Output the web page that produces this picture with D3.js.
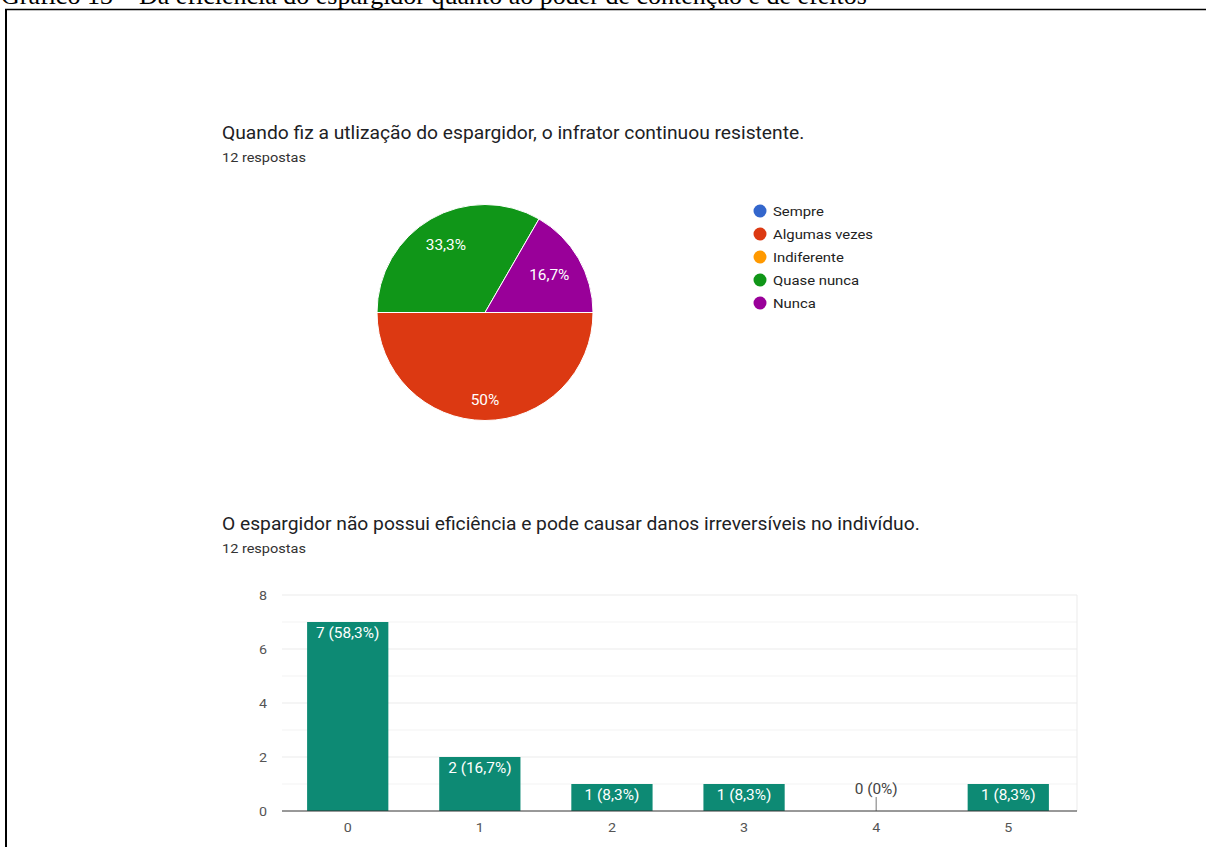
<!DOCTYPE html>
<html>
<head>
<meta charset="utf-8">
<script src="https://cdn.jsdelivr.net/npm/d3@7"></script>
<style>
  html, body { margin: 0; padding: 0; background: #fff; }
  svg { display: block; }
</style>
</head>
<body>
<div id="canvas"></div>
<script>
'use strict';

// Figure caption (cut off at the top of the page in the source).
const captionText =
    'Gráfico 13 – Da eficiência do espargidor quanto ao poder de contenção e de efeitos';

// Pie chart: first question.
const pieTitle =
    'Quando fiz a utlização do espargidor, o infrator continuou resistente.';
const pieSubtitle = '12 respostas';
const pieCategories =
    ['Sempre', 'Algumas vezes', 'Indiferente', 'Quase nunca', 'Nunca'];
const pieValues = [0, 6, 0, 4, 2];
const pieColors = ['#3366cc', '#dc3912', '#ff9900', '#109618', '#990099'];

// Bar chart: second question.
const barTitle =
    'O espargidor não possui eficiência e pode causar danos irreversíveis no indivíduo.';
const barSubtitle = '12 respostas';
const barCategories = ['0', '1', '2', '3', '4', '5'];
const barValues = [7, 2, 1, 1, 0, 1];
const barYTicks = [0, 2, 4, 6, 8];

const FONT = 'Roboto, Arial, sans-serif';
// The screenshot the chart comes from is a little wider than tall,
// so all the form text is stretched horizontally by this much.
const STRETCH = 1.1;
const width = 1206;
const height = 847;

const svg = d3.select('#canvas').append('svg')
    .attr('width', width)
    .attr('height', height);

// Percentages are written the Brazilian way: 58,3%
const pct = (v, total) => {
  const p = Math.round(v / total * 1000) / 10;
  return String(p).replace('.', ',') + '%';
};

// Places a text at (x, y) and stretches it sideways.
function placeStretched(sel, x, y) {
  sel.attr('x', 0).attr('y', 0)
      .attr('transform', `translate(${x}, ${y}) scale(${STRETCH}, 1)`);
}

// ---- page frame and clipped caption ----
svg.append('text')
    .attr('x', 1)
    .attr('y', 4)
    .attr('font-family', '"Liberation Serif", "Times New Roman", serif')
    .attr('font-size', 26)
    .attr('fill', '#000')
    .text(captionText);

svg.append('line')
    .attr('x1', 5).attr('x2', width)
    .attr('y1', 9.5).attr('y2', 9.5)
    .attr('stroke', '#000').attr('stroke-width', 1.5);
svg.append('line')
    .attr('x1', 6).attr('x2', 6)
    .attr('y1', 9).attr('y2', height)
    .attr('stroke', '#000').attr('stroke-width', 2);

// ---- headings ----
function heading(title, subtitle, y) {
  svg.append('text')
      .attr('font-family', FONT).attr('font-size', 17.5)
      .attr('fill', '#202124')
      .text(title)
      .call(placeStretched, 222, y);
  svg.append('text')
      .attr('font-family', FONT).attr('font-size', 13.2)
      .attr('fill', '#333')
      .text(subtitle)
      .call(placeStretched, 222, y + 23);
}
heading(pieTitle, pieSubtitle, 139);
heading(barTitle, barSubtitle, 530);

// ---- pie chart ----
const pieCx = 485;
const pieCy = 312.5;
const pieR = 108;
const pieTotal = d3.sum(pieValues);

const pieData = pieCategories.map((c, i) => ({
  key: c, value: pieValues[i], color: pieColors[i],
}));

const pie = d3.pie()
    .sort(null)
    .value(d => d.value)
    .startAngle(Math.PI / 2)
    .endAngle(Math.PI / 2 + 2 * Math.PI);
const arc = d3.arc().innerRadius(0).outerRadius(pieR);

const pieG = svg.append('g')
    .attr('transform', `translate(${pieCx}, ${pieCy})`);

const arcs = pie(pieData).filter(a => a.data.value > 0);

pieG.selectAll('path.slice')
    .data(arcs)
    .enter()
    .append('path')
    .attr('class', 'slice')
    .attr('d', arc)
    .attr('fill', d => d.data.color)
    .attr('stroke', '#fff')
    .attr('stroke-width', 1);

// Labels are pushed outward along the slice bisector until the far corner
// of their box reaches a fixed distance from the centre.
const labelReach = 95;
const labelH = 13;
pieG.selectAll('text.slice-label')
    .data(arcs)
    .enter()
    .append('text')
    .attr('class', 'slice-label')
    .attr('font-family', FONT)
    .attr('font-size', 14)
    .attr('fill', '#fff')
    .attr('text-anchor', 'middle')
    .attr('dominant-baseline', 'central')
    .text(d => pct(d.data.value, pieTotal))
    .each(function(d) {
      const w = this.getComputedTextLength() * STRETCH;
      const mid = (d.startAngle + d.endAngle) / 2;
      const dx = Math.sin(mid);
      const dy = -Math.cos(mid);
      const a = (Math.abs(dx) < 1e-6 ? 1 : Math.sign(dx)) * w / 2;
      const b = (Math.abs(dy) < 1e-6 ? 1 : Math.sign(dy)) * labelH / 2;
      const p = dx * a + dy * b;
      const t = -p + Math.sqrt(p * p - (a * a + b * b - labelReach * labelReach));
      d3.select(this).call(placeStretched, t * dx, t * dy);
    });

// legend
const legendScale = d3.scalePoint()
    .domain(pieCategories)
    .range([211, 303]);
const legend = svg.append('g').attr('class', 'legend');
const legendItems = legend.selectAll('g')
    .data(pieData)
    .enter()
    .append('g')
    .attr('transform', d => `translate(760, ${legendScale(d.key)})`);
legendItems.append('circle')
    .attr('r', 6.5)
    .attr('fill', d => d.color);
legendItems.append('text')
    .attr('dominant-baseline', 'central')
    .attr('font-family', FONT)
    .attr('font-size', 13.5)
    .attr('fill', '#222')
    .text(d => d.key)
    .call(placeStretched, 13, 0);

// ---- bar chart ----
const plot = {left: 282, right: 1077, top: 595, bottom: 811};

const x = d3.scaleBand()
    .domain(barCategories)
    .range([plot.left, plot.left + 132 * barCategories.length])
    .paddingInner(0.385)
    .paddingOuter(0.19);
const y = d3.scaleLinear()
    .domain([0, 8])
    .range([plot.bottom, plot.top]);

const barG = svg.append('g');

// minor and major gridlines
barG.selectAll('line.minor')
    .data(d3.range(1, 8, 2))
    .enter()
    .append('line')
    .attr('x1', plot.left).attr('x2', plot.right)
    .attr('y1', d => y(d)).attr('y2', d => y(d))
    .attr('stroke', '#f3f3f3').attr('stroke-width', 1);
barG.selectAll('line.major')
    .data(barYTicks.filter(t => t > 0))
    .enter()
    .append('line')
    .attr('x1', plot.left).attr('x2', plot.right)
    .attr('y1', d => y(d)).attr('y2', d => y(d))
    .attr('stroke', '#ebebeb').attr('stroke-width', 1);
barG.append('line')
    .attr('x1', plot.right).attr('x2', plot.right)
    .attr('y1', plot.top).attr('y2', plot.bottom)
    .attr('stroke', '#ebebeb');

// y axis labels
const yAxis = d3.axisLeft(y).tickValues(barYTicks).tickSize(0).tickPadding(0);
const yAxisG = barG.append('g')
    .attr('transform', `translate(${plot.left - 15}, 0)`)
    .call(yAxis);
yAxisG.select('.domain').remove();
yAxisG.selectAll('text')
    .attr('font-family', FONT)
    .attr('font-size', 13)
    .attr('fill', '#555')
    .attr('transform', `scale(${STRETCH}, 1)`);

// bars
barG.selectAll('rect.bar')
    .data(barValues)
    .enter()
    .append('rect')
    .attr('class', 'bar')
    .attr('x', (d, i) => x(barCategories[i]))
    .attr('y', d => y(d))
    .attr('width', x.bandwidth())
    .attr('height', d => y(0) - y(d))
    .attr('fill', '#0d8a74');

const barTotal = d3.sum(barValues);
const barLabel = (d) => `${d} (${pct(d, barTotal)})`;

barG.selectAll('text.bar-label')
    .data(barValues)
    .enter()
    .append('text')
    .attr('class', 'bar-label')
    .attr('text-anchor', 'middle')
    .attr('font-family', FONT)
    .attr('font-size', 14)
    .attr('fill', d => d > 0 ? '#fff' : '#444')
    .text(barLabel)
    .each(function(d, i) {
      d3.select(this).call(placeStretched,
          x(barCategories[i]) + x.bandwidth() / 2,
          d > 0 ? y(d) + 16 : y(0) - 17);
    });

// zero-value marker
barG.selectAll('line.zero-stem')
    .data(barValues.map((v, i) => ({v, c: barCategories[i]})).filter(d => d.v === 0))
    .enter()
    .append('line')
    .attr('x1', d => x(d.c) + x.bandwidth() / 2)
    .attr('x2', d => x(d.c) + x.bandwidth() / 2)
    .attr('y1', y(0) - 14)
    .attr('y2', y(0))
    .attr('stroke', '#777')
    .attr('stroke-width', 1);

// baseline
barG.append('line')
    .attr('x1', plot.left).attr('x2', plot.right)
    .attr('y1', y(0)).attr('y2', y(0))
    .attr('stroke', '#333').attr('stroke-width', 1);

// x axis labels
const xAxis = d3.axisBottom(x).tickSize(0).tickPadding(0);
const xAxisG = barG.append('g')
    .attr('transform', `translate(0, ${plot.bottom + 12})`)
    .call(xAxis);
xAxisG.select('.domain').remove();
xAxisG.selectAll('text')
    .attr('font-family', FONT)
    .attr('font-size', 13)
    .attr('fill', '#555')
    .attr('transform', `scale(${STRETCH}, 1)`);
</script>
</body>
</html>
